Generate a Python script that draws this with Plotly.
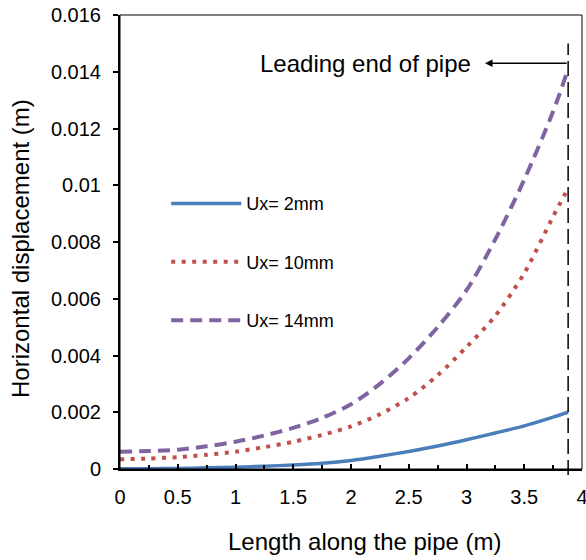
import plotly.graph_objects as go

# ---- data ----
length_m = [0, 0.25, 0.5, 0.75, 1, 1.25, 1.5, 1.75, 2, 2.25, 2.5, 2.75, 3, 3.25, 3.5, 3.75, 3.88]
ux_2mm = [0.00001, 0.00001, 0.00002, 0.00004, 0.00006, 0.0001, 0.00014, 0.0002, 0.0003,
          0.00045, 0.00062, 0.00081, 0.00103, 0.00127, 0.00152, 0.00183, 0.002]
ux_10mm = [0.00034, 0.00037, 0.00042, 0.0005, 0.00061, 0.00077, 0.00096, 0.0012, 0.0015,
           0.00193, 0.0025, 0.0033, 0.0043, 0.0054, 0.0069, 0.0089, 0.0099]
ux_14mm = [0.00061, 0.00063, 0.00068, 0.0008, 0.00096, 0.00118, 0.00145, 0.0018, 0.00228,
           0.003, 0.0039, 0.005, 0.0063, 0.0081, 0.0102, 0.0126, 0.0141]
series_names = ["Ux= 2mm", "Ux= 10mm", "Ux= 14mm"]
y_tickvals = [0, 0.002, 0.004, 0.006, 0.008, 0.01, 0.012, 0.014, 0.016]
y_ticktext = ["0", "0.002", "0.004", "0.006", "0.008", "0.01", "0.012", "0.014", "0.016"]
x_tickvals = [0, 0.5, 1, 1.5, 2, 2.5, 3, 3.5, 4]
x_ticktext = ["0", "0.5", "1", "1.5", "2", "2.5", "3", "3.5", "4"]
x_title = "Length along the pipe (m)"
y_title = "Horizontal displacement (m)"
leading_end = length_m[-1]
annotation_y = 0.0143
arrow_head_x = 3.16
label_right_x = 3.055

FONT = "Liberation Sans, Arial, sans-serif"

fig = go.Figure()
fig.add_trace(go.Scatter(x=length_m, y=ux_2mm, name=series_names[0], mode="lines",
                         line=dict(color="#4A7EBB", width=3.5, shape="spline", smoothing=0.8),
                         legendgroup="a"))
fig.add_trace(go.Scatter(x=length_m, y=ux_10mm, name=series_names[1], mode="lines",
                         line=dict(color="#C0504D", width=4, dash="4px,6.5px", shape="spline", smoothing=0.8),
                         legendgroup="b"))
fig.add_trace(go.Scatter(x=length_m, y=ux_14mm, name=series_names[2], mode="lines",
                         line=dict(color="#8064A2", width=4, dash="12px,7px", shape="spline", smoothing=0.8),
                         legendgroup="c"))

# vertical dashed line at leading end
fig.add_shape(type="line", xref="x", yref="paper", x0=leading_end, x1=leading_end,
              y0=-0.013, y1=0.937, line=dict(color="black", width=1.5, dash="15px,6px"))
# frame (top/right thin)
fig.add_shape(type="rect", xref="paper", yref="paper", x0=0, x1=1, y0=0, y1=1,
              line=dict(color="black", width=1))

fig.add_annotation(x=arrow_head_x, y=annotation_y, ax=leading_end, ay=annotation_y,
                   xref="x", yref="y", axref="x", ayref="y", text="", showarrow=True,
                   arrowhead=2, arrowsize=1, arrowwidth=1.5, arrowcolor="black", standoff=0,
                   startstandoff=0)
fig.add_annotation(x=label_right_x, y=annotation_y, xref="x", yref="y", text="Leading end of pipe",
                   showarrow=False, xanchor="right", yanchor="middle",
                   font=dict(family=FONT, size=24, color="black"))
# axis titles
fig.add_annotation(x=0.531, y=(469 - 541.5) / 454, xref="paper", yref="paper", text=x_title,
                   showarrow=False, xanchor="center", yanchor="middle",
                   font=dict(family=FONT, size=24, color="black"))
fig.add_annotation(x=-0.2165, y=(469 - 248) / 454, xref="paper", yref="paper", text=y_title,
                   showarrow=False, textangle=-90, xanchor="center", yanchor="middle",
                   font=dict(family=FONT, size=24, color="black"))

fig.update_layout(
    width=586, height=560,
    margin=dict(l=120, r=4, t=15, b=91, autoexpand=False),
    paper_bgcolor="white", plot_bgcolor="white",
    font=dict(family=FONT, size=18, color="black"),
    showlegend=True,
    legend=dict(x=0.1, y=0.625, xanchor="left", yanchor="top", bgcolor="rgba(0,0,0,0)",
                font=dict(family=FONT, size=18, color="black"), itemwidth=70,
                traceorder="grouped", tracegroupgap=32),
    xaxis=dict(range=[0, 4], tickvals=x_tickvals, ticktext=x_ticktext, ticks="inside",
               ticklen=5, tickwidth=1.5, tickcolor="black", showline=True, linecolor="black",
               linewidth=2, showgrid=False, zeroline=False, ticklabeloverflow="allow",
               automargin=False,
               minor=dict(dtick=0.25, ticks="inside", ticklen=4, tickwidth=1.5, tickcolor="black"),
               tickfont=dict(family=FONT, size=20), ticklabelstandoff=9),
    yaxis=dict(range=[0, 0.016], tickvals=y_tickvals, ticktext=y_ticktext, ticks="outside",
               ticklen=5, tickwidth=1.5, tickcolor="black", showline=True, linecolor="black",
               linewidth=2, showgrid=False, zeroline=False, automargin=False,
               tickfont=dict(family=FONT, size=20), ticklabelstandoff=8),
)

fig.write_html("out.html")
